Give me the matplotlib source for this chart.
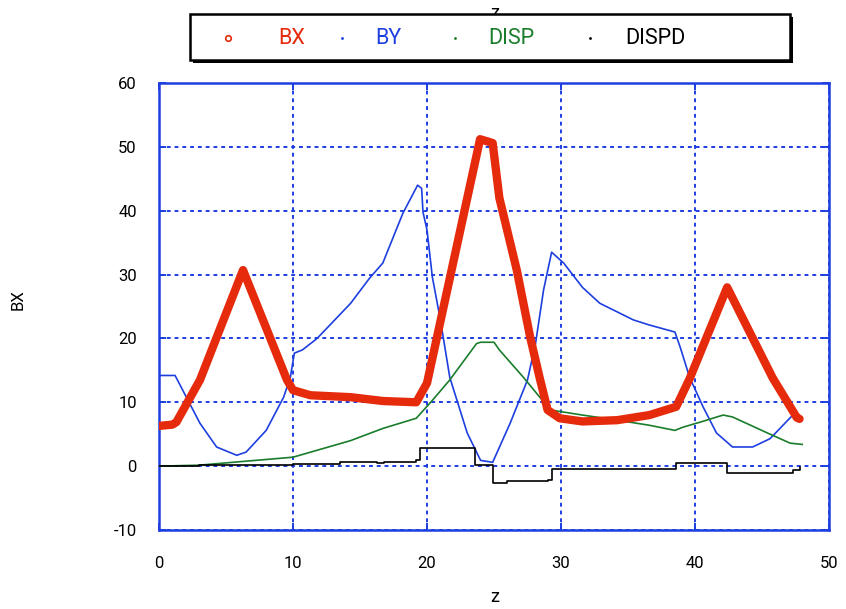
import numpy as np
import matplotlib
matplotlib.use("Agg")
import matplotlib.pyplot as plt
from matplotlib.lines import Line2D
from matplotlib.patches import Rectangle

plt.rcParams["axes.unicode_minus"] = False

# values
bx_z = [0.0, 1.0, 1.3, 2.1, 3.06, 6.27, 9.55, 10.0, 11.3, 14.3, 16.7, 19.2, 20.0, 23.96, 24.9,
        25.4, 26.7, 27.7, 28.4, 29.0, 29.9, 31.6, 34.2, 36.6, 38.6, 39.6, 42.4, 45.8, 47.6, 47.8]
bx = [6.3, 6.5, 6.9, 9.9, 13.5, 30.7, 13.5, 11.9, 11.1, 10.8, 10.2, 10.0, 13.0, 51.2, 50.6,
      42.0, 30.7, 20.2, 13.9, 8.8, 7.5, 7.0, 7.2, 8.0, 9.3, 13.7, 28.0, 13.8, 7.6, 7.4]

by_z = [0.0, 1.2, 3.06, 4.3, 5.8, 6.5, 8.0, 9.3, 9.8, 10.1, 10.7, 11.8, 14.3, 15.7, 16.7, 18.2,
        19.3, 19.6, 19.7, 20.0, 20.4, 21.0, 21.7, 23.0, 24.0, 24.9, 26.2, 27.5, 28.1, 28.7, 29.3,
        30.2, 31.6, 32.9, 35.4, 36.6, 38.5, 38.9, 39.6, 40.6, 41.6, 42.8, 44.3, 45.6, 47.3, 47.8]
by = [14.2, 14.2, 6.7, 3.0, 1.7, 2.2, 5.6, 10.8, 13.9, 17.7, 18.2, 20.0, 25.5, 29.4, 31.8, 39.6,
      44.0, 43.5, 39.8, 37.0, 29.6, 22.9, 13.9, 5.2, 0.9, 0.6, 6.7, 13.5, 19.2, 27.6, 33.5,
      31.8, 28.0, 25.5, 22.9, 22.1, 21.0, 18.6, 13.9, 9.3, 5.2, 3.0, 3.0, 4.3, 8.0, 7.7]

disp_z = [0.0, 3.0, 5.5, 10.0, 14.3, 16.7, 19.2, 20.4, 21.7, 23.7, 24.0, 25.0, 25.4, 27.2,
          29.2, 31.6, 34.2, 36.6, 38.5, 39.1, 40.4, 42.1, 42.8, 45.4, 47.1, 48.0]
disp = [0.0, 0.15, 0.6, 1.4, 4.0, 5.9, 7.5, 10.3, 13.5, 19.2, 19.4, 19.4, 18.2, 13.9,
        8.8, 8.0, 7.2, 6.4, 5.6, 6.1, 6.9, 8.0, 7.7, 5.2, 3.6, 3.4]

dispd_z = [0.0, 3.0, 10.0, 13.5, 16.3, 16.8, 19.2, 19.5, 23.6, 24.0, 24.9, 26.0, 29.0, 29.3,
           38.6, 42.4, 47.3, 47.8]
dispd = [0.0, 0.15, 0.3, 0.6, 0.45, 0.7, 0.9, 2.8, 0.15, 0.15, -2.6, -2.4, -2.2, -0.4,
         0.5, -1.1, -0.6, -0.1]

names = ["BX", "BY", "DISP", "DISPD"]
colors = ["#e62a0c", "#1e3fe0", "#1a7d2c", "#000000"]
FONT = ["Roboto", "DejaVu Sans"]

fig = plt.figure(figsize=(8.46, 6.09), dpi=100)
W, H = 846, 609
ax = fig.add_axes([159 / W, 79 / H, 670 / W, 447 / H])

ax.plot(by_z, by, color=colors[1], lw=1.2, zorder=3)
ax.plot(disp_z, disp, color=colors[2], lw=1.2, zorder=3)
ax.step(dispd_z, dispd, where="post", color=colors[3], lw=1.2, zorder=3)
ax.plot(bx_z, bx, color=colors[0], lw=6, solid_capstyle="round", zorder=4)

ax.set_xlim(0, 50)
ax.set_ylim(-10, 60)
ax.set_xticks(np.arange(0, 51, 10))
ax.set_yticks(np.arange(-10, 61, 10))
ax.grid(True, color="#1e3fe0", linestyle=(0, (2, 2)), lw=1.4)
for s in ax.spines.values():
    s.set_color("#1e3fe0")
    s.set_linewidth(1.8)
ax.tick_params(direction="in", length=5, width=1.4, color="#1e3fe0",
               labelsize=12, right=True, top=True)
ax.tick_params(axis="x", pad=19)
ax.tick_params(axis="y", pad=16)
for lab in ax.get_xticklabels() + ax.get_yticklabels():
    lab.set_family(FONT)

fig.text(495 / W, 1 - 4 / H, "z", ha="center", va="top", fontsize=13, family=FONT)
fig.text(495 / W, 1 - 597 / H, "z", ha="center", va="center", fontsize=13, family=FONT)
fig.text(18 / W, 1 - 300 / H, "BX", ha="center", va="center", rotation=90,
         fontsize=12, family=FONT)

# legend box with a hard black shadow
fig.add_artist(Rectangle((193 / W, 1 - 63 / H), 600 / W, 46 / H, transform=fig.transFigure,
                         facecolor="black", edgecolor="none", zorder=9))
fig.add_artist(Rectangle((190 / W, 1 - 60 / H), 600 / W, 46 / H, transform=fig.transFigure,
                         facecolor="white", edgecolor="black", lw=1.8, zorder=10))
mark_x = [228, 342, 455, 590]
text_x = [278, 375, 488, 625]
styles = [dict(marker="o", ms=4, mfc="none", mew=1.2), dict(marker=".", ms=2),
          dict(marker=".", ms=2), dict(marker=".", ms=2)]
for name, c, mx, tx, st in zip(names, colors, mark_x, text_x, styles):
    fig.add_artist(Line2D([mx / W], [1 - 38 / H], transform=fig.transFigure, ls="none",
                          color=c, mec=c, zorder=11, **st))
    fig.text(tx / W, 1 - 38 / H, name, ha="left", va="center", color=c, fontsize=15.5,
             family=FONT, zorder=11)

fig.savefig("out.png", dpi=100)
